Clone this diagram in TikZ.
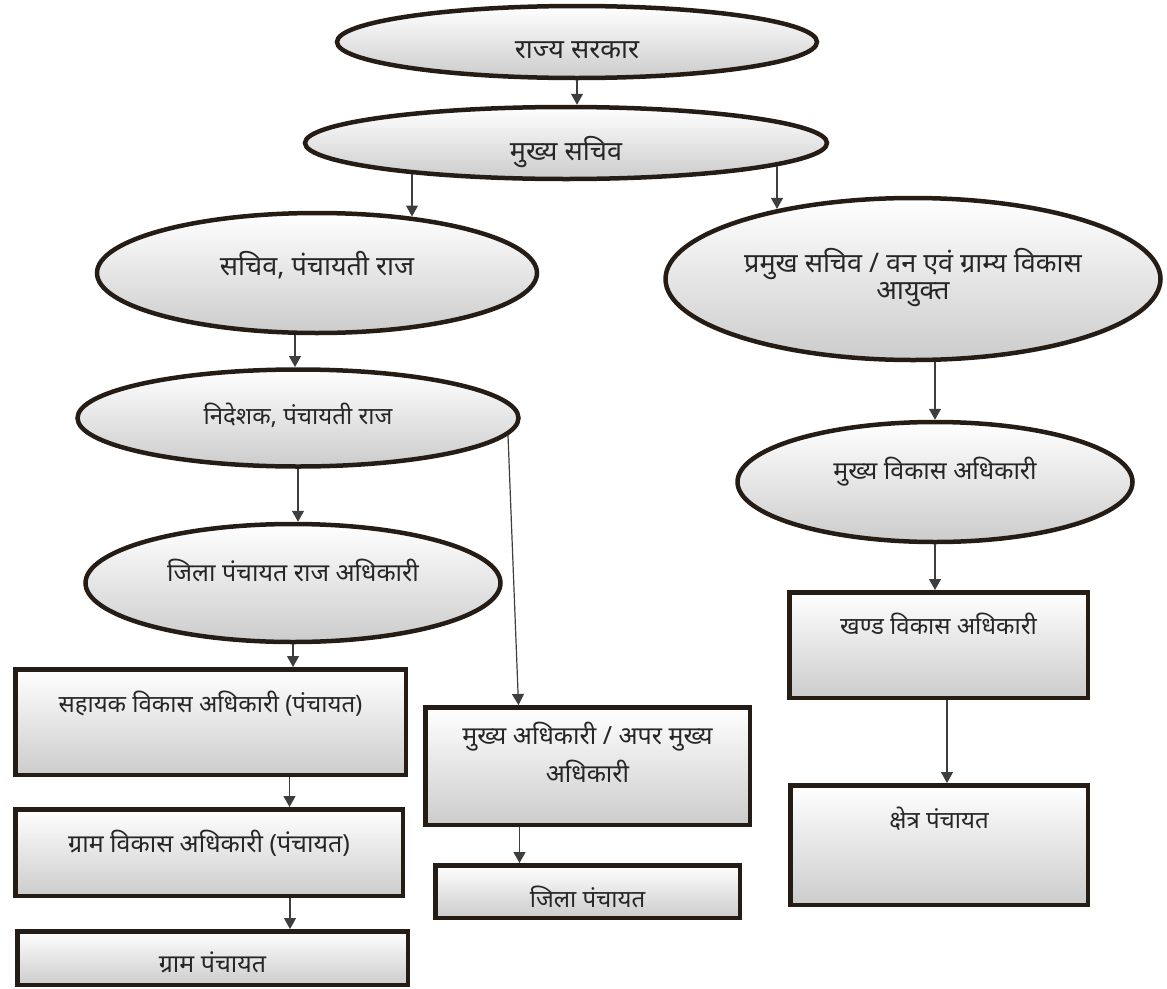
\documentclass[tikz,border=0pt]{standalone}
\usepackage{fontspec}
\setmainfont[Script=Devanagari]{Noto Sans}
\usepackage{tikz}
\usetikzlibrary{arrows.meta}
\usetikzlibrary{shapes.geometric}
\usetikzlibrary{calc}

\definecolor{rim}{RGB}{38,28,22}
\definecolor{wire}{RGB}{62,62,62}
\newcommand{\lift}[2]{\raisebox{#1}[0pt][0pt]{#2}}

\begin{document}
\begin{tikzpicture}
	[
	x = 1pt, y = -1pt,
	> = {Triangle[length=11pt,width=12pt]},
	post/.style = {draw=rim, line width=4.5pt, top color=white, bottom color=black!20, inner sep=0pt, text=black!85, font=\fontsize{25}{27}\selectfont},
	big/.style = {font=\fontsize{27}{27}\selectfont},
	small/.style = {font=\fontsize{24}{27}\selectfont},
	oval/.style = {post, ellipse},
	box/.style = {post, rectangle},
	link/.style = {->, draw=wire, line width=1.2pt}
	]
	\useasboundingbox (0,0) rectangle (1167,988);

	% ovals
	\node[oval, big, minimum width=480pt, minimum height=72pt] (rs) at (577,42) {\lift{-16pt}{राज्य सरकार}};
	\node[oval, big, minimum width=522pt, minimum height=72pt] (ms) at (566,143) {\lift{-17pt}{मुख्य सचिव}};
	\node[oval, big, minimum width=440pt, minimum height=120pt] (sp) at (317,273) {\lift{-2.5pt}{सचिव, पंचायती राज}};
	\node[oval, big, minimum width=495pt, minimum height=162pt] (pr) at (913,279)
		{\lift{-5.5pt}{\begin{tabular}{@{}c@{}}प्रमुख सचिव / वन एवं ग्राम्य विकास\\आयुक्त\end{tabular}}};
	\node[oval, small, minimum width=441pt, minimum height=97pt] (np) at (298,418) {\lift{-6pt}{निदेशक, पंचायती राज}};
	\node[oval, minimum width=415pt, minimum height=118pt] (jp) at (293,583) {\lift{2pt}{जिला पंचायत राज अधिकारी}};
	\node[oval, minimum width=395pt, minimum height=120pt] (mv) at (935,482) {\lift{3pt}{मुख्य विकास अधिकारी}};

	% boxes
	\node[box, small, minimum width=390.5pt, minimum height=105.5pt] (sv) at (210.5,722) {\lift{9.5pt}{सहायक विकास अधिकारी (पंचायत)}};
	\node[box, minimum width=387.5pt, minimum height=86.5pt] (gv) at (209,852.5) {\lift{0.5pt}{ग्राम विकास अधिकारी (पंचायत)}};
	\node[box, minimum width=390.5pt, minimum height=53.5pt] (gp) at (212.5,958) {\lift{-14.5pt}{ग्राम पंचायत}};
	\node[box, minimum width=324.5pt, minimum height=117.5pt, font=\fontsize{25}{38}\selectfont] (ma) at (587.5,766)
		{\lift{4pt}{\begin{tabular}{@{}c@{}}मुख्य अधिकारी / अपर मुख्य\\अधिकारी\end{tabular}}};
	\node[box, small, minimum width=304.5pt, minimum height=52.5pt] (jl) at (587.5,891.5) {\lift{-16pt}{जिला पंचायत}};
	\node[box, small, minimum width=298.5pt, minimum height=105.5pt] (kv) at (938.5,645) {\lift{11pt}{खण्ड विकास अधिकारी}};
	\node[box, small, minimum width=297.5pt, minimum height=119.5pt] (kp) at (939,845) {\lift{16.5pt}{क्षेत्र पंचायत}};

	% links
	\draw[link] (rs.south) -- (rs.south |- ms.north);
	\draw[link] ($(ms.center)+(-154pt,-31.2pt)$) -- ($(sp.center)+(95pt,56.5pt)$);
	\draw[link] ($(ms.center)+(211pt,-23.1pt)$) -- ($(pr.center)+(-136pt,70.1pt)$);
	\draw[link] ($(sp.center)+(-22pt,-62.2pt)$) -- ($(np.center)+(-3pt,51pt)$);
	\draw[link] (np.south) -- (np.south |- jp.north);
	\draw[link] ($(np.center)+(210pt,-17.2pt)$) -- ([xshift=-69pt]ma.north);
	\draw[link] (jp.south) -- (jp.south |- sv.north);
	\draw[link] ([xshift=79pt]sv.south) -- ([xshift=79pt]sv.south |- gv.north);
	\draw[link] ([xshift=81pt]gv.south) -- ([xshift=81pt]gv.south |- gp.north);
	\draw[link] ([xshift=-68pt]ma.south) -- ([xshift=-68pt]ma.south |- jl.north);
	\draw[link] (pr.south -| mv.north) -- (mv.north);
	\draw[link] (mv.south) -- (mv.south |- kv.north);
	\draw[link] ([xshift=8.5pt]kv.south) -- ([xshift=8.5pt]kv.south |- kp.north);

\end{tikzpicture}
\end{document}
